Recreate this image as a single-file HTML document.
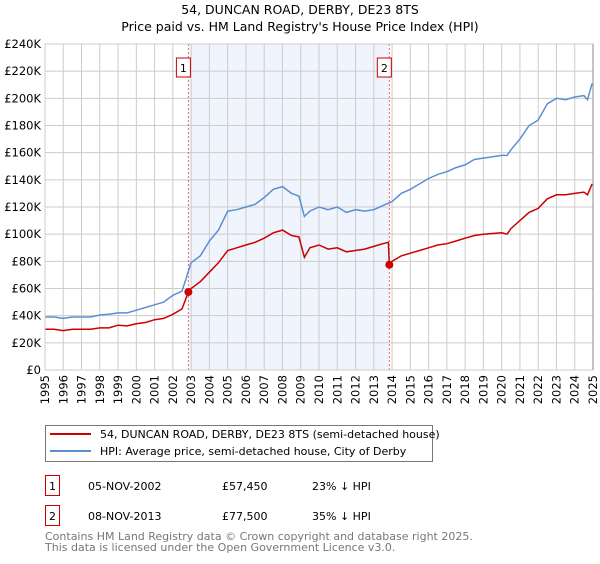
<!DOCTYPE html>
<html><head><meta charset="utf-8"><style>
body{margin:0;background:#fff;font-family:"DejaVu Sans","Liberation Sans",sans-serif;}
svg text{font-family:"DejaVu Sans","Liberation Sans",sans-serif;}
</style></head><body>
<svg id="c" width="600" height="560" xmlns="http://www.w3.org/2000/svg">
<text x="300" y="14" text-anchor="middle" font-size="12.5">54, DUNCAN ROAD, DERBY, DE23 8TS</text>
<text x="300" y="31" text-anchor="middle" font-size="12.5">Price paid vs. HM Land Registry's House Price Index (HPI)</text>
<g id="plot"></g>
<rect x="45.5" y="425.5" width="387" height="36" fill="#fff" stroke="#777"/>
<line x1="50" y1="434" x2="91" y2="434" stroke="#cc0000" stroke-width="2"/>
<text x="100" y="438" font-size="11">54, DUNCAN ROAD, DERBY, DE23 8TS (semi-detached house)</text>
<line x1="50" y1="451" x2="91" y2="451" stroke="#5b8fd4" stroke-width="2"/>
<text x="100" y="455" font-size="11">HPI: Average price, semi-detached house, City of Derby</text>
<rect x="45.5" y="475.5" width="14" height="20" fill="none" stroke="#cc0000"/>
<text x="52.5" y="490" font-size="11" text-anchor="middle">1</text>
<text x="88" y="490" font-size="11">05-NOV-2002</text>
<text x="222" y="490" font-size="11">£57,450</text>
<text x="312" y="490" font-size="11">23% ↓ HPI</text>
<rect x="45.5" y="505.5" width="14" height="20" fill="none" stroke="#cc0000"/>
<text x="52.5" y="520" font-size="11" text-anchor="middle">2</text>
<text x="88" y="520" font-size="11">08-NOV-2013</text>
<text x="222" y="520" font-size="11">£77,500</text>
<text x="312" y="520" font-size="11">35% ↓ HPI</text>
<text x="45" y="540" font-size="11" fill="#777">Contains HM Land Registry data © Crown copyright and database right 2025.</text>
<text x="45" y="551" font-size="11" fill="#777">This data is licensed under the Open Government Licence v3.0.</text>
</svg>
<script>
const hpiYears=[1995,1995.5,1996,1996.5,1997,1997.5,1998,1998.5,1999,1999.5,2000,2000.5,2001,2001.5,2002,2002.5,2003,2003.5,2004,2004.5,2005,2005.5,2006,2006.5,2007,2007.5,2008,2008.5,2008.9,2009.2,2009.5,2010,2010.5,2011,2011.5,2012,2012.5,2013,2013.5,2014,2014.5,2015,2015.5,2016,2016.5,2017,2017.5,2018,2018.5,2019,2019.5,2020,2020.3,2020.5,2021,2021.5,2022,2022.5,2023,2023.5,2024,2024.5,2024.7,2024.95];
const hpiValues=[39,39,38,39,39,39,40.5,41,42,42,44,46,48,50,55,58,79,84,95,103,117,118,120,122,127,133,135,130,128,113,117,120,118,120,116,118,117,118,121,124,130,133,137,141,144,146,149,151,155,156,157,158,158,162,170,180,184,196,200,199,201,202,199,211];
const priceYears=[1995,1995.5,1996,1996.5,1997,1997.5,1998,1998.5,1999,1999.5,2000,2000.5,2001,2001.5,2002,2002.5,2002.85,2003,2003.5,2004,2004.5,2005,2005.5,2006,2006.5,2007,2007.5,2008,2008.5,2008.9,2009.2,2009.5,2010,2010.5,2011,2011.5,2012,2012.5,2013,2013.5,2013.8,2013.85,2014,2014.5,2015,2015.5,2016,2016.5,2017,2017.5,2018,2018.5,2019,2019.5,2020,2020.3,2020.5,2021,2021.5,2022,2022.5,2023,2023.5,2024,2024.5,2024.7,2024.95];
const priceValues=[30,30,29,30,30,30,31,31,33,32.5,34,35,37,38,41,45,57.45,60,65,72,79,88,90,92,94,97,101,103,99,98,83,90,92,89,90,87,88,89,91,93,94,77.5,80,84,86,88,90,92,93,95,97,99,100,100.5,101,100,104,110,116,119,126,129,129,130,131,129,137];
const saleYears=[2002.85,2013.85];
const saleValues=[57.45,77.5];
const saleLabels=["1","2"];
const yTicks=[0,20,40,60,80,100,120,140,160,180,200,220,240];
const yTickLabels=["£0","£20K","£40K","£60K","£80K","£100K","£120K","£140K","£160K","£180K","£200K","£220K","£240K"];
const xTicks=[1995,1996,1997,1998,1999,2000,2001,2002,2003,2004,2005,2006,2007,2008,2009,2010,2011,2012,2013,2014,2015,2016,2017,2018,2019,2020,2021,2022,2023,2024,2025];

const L=45,R=593,T=44,B=370;
const xS=y=>L+(y-1995)/(2025-1995)*(R-L);
const yS=v=>B-v/240*(B-T);
const NS="http://www.w3.org/2000/svg";
const g=document.getElementById('plot');
function mk(t,a){const e=document.createElementNS(NS,t);for(const k in a)e.setAttribute(k,a[k]);g.appendChild(e);return e;}
let e=mk('rect',{x:xS(saleYears[0]),y:T,width:xS(saleYears[1])-xS(saleYears[0]),height:B-T,fill:'#f0f4fd'});


yTicks.forEach((v,i)=>{
 let l=mk('line',{x1:L,x2:R,y1:yS(v),y2:yS(v),stroke:'#ccc','stroke-width':1});
 
 
 let t=mk('text',{x:L-4,y:yS(v)+4,'text-anchor':'end','font-size':'11.5'});
 t.textContent=yTickLabels[i];
 
 
});
xTicks.forEach(y=>{
 let l=mk('line',{x1:xS(y),x2:xS(y),y1:T,y2:B,stroke:'#ccc','stroke-width':1});
 
 
 let t=mk('text',{x:0,y:0,'text-anchor':'end','font-size':'11.5',transform:`translate(${xS(y)+4},${B+5}) rotate(-90)`});
 t.textContent=y;
 
 
});
saleYears.forEach((y,i)=>{
 let l=mk('line',{x1:xS(y),x2:xS(y),y1:T,y2:B,stroke:'#e66','stroke-width':1,'stroke-dasharray':'2,2'});
 
 
 let r=mk('rect',{x:xS(y)-12,y:58,width:14,height:19,fill:'#fff',stroke:'#cc0000'});
 
 
 let t=mk('text',{x:xS(y)-5,y:72,'text-anchor':'middle','font-size':'11'});
 t.textContent=saleLabels[i];
 
 
});
function path(xs,vs){return xs.map((x,i)=>(i?'L':'M')+xS(x).toFixed(1)+','+yS(vs[i]).toFixed(1)).join('');}
e=mk('path',{d:path(hpiYears,hpiValues),fill:'none',stroke:'#5b8fd4','stroke-width':1.5});


e=mk('path',{d:path(priceYears,priceValues),fill:'none',stroke:'#cc0000','stroke-width':1.5});


saleYears.forEach((y,i)=>{
 let c=mk('circle',{cx:xS(y),cy:yS(saleValues[i]),r:4,fill:'#cc0000'});
 
 
});
e=mk('rect',{x:L,y:T,width:R-L,height:B-T,fill:'none',stroke:'#ccc'});


e=mk('line',{x1:R,x2:R,y1:T,y2:B,stroke:'#888','stroke-width':1});


</script>
</body></html>
